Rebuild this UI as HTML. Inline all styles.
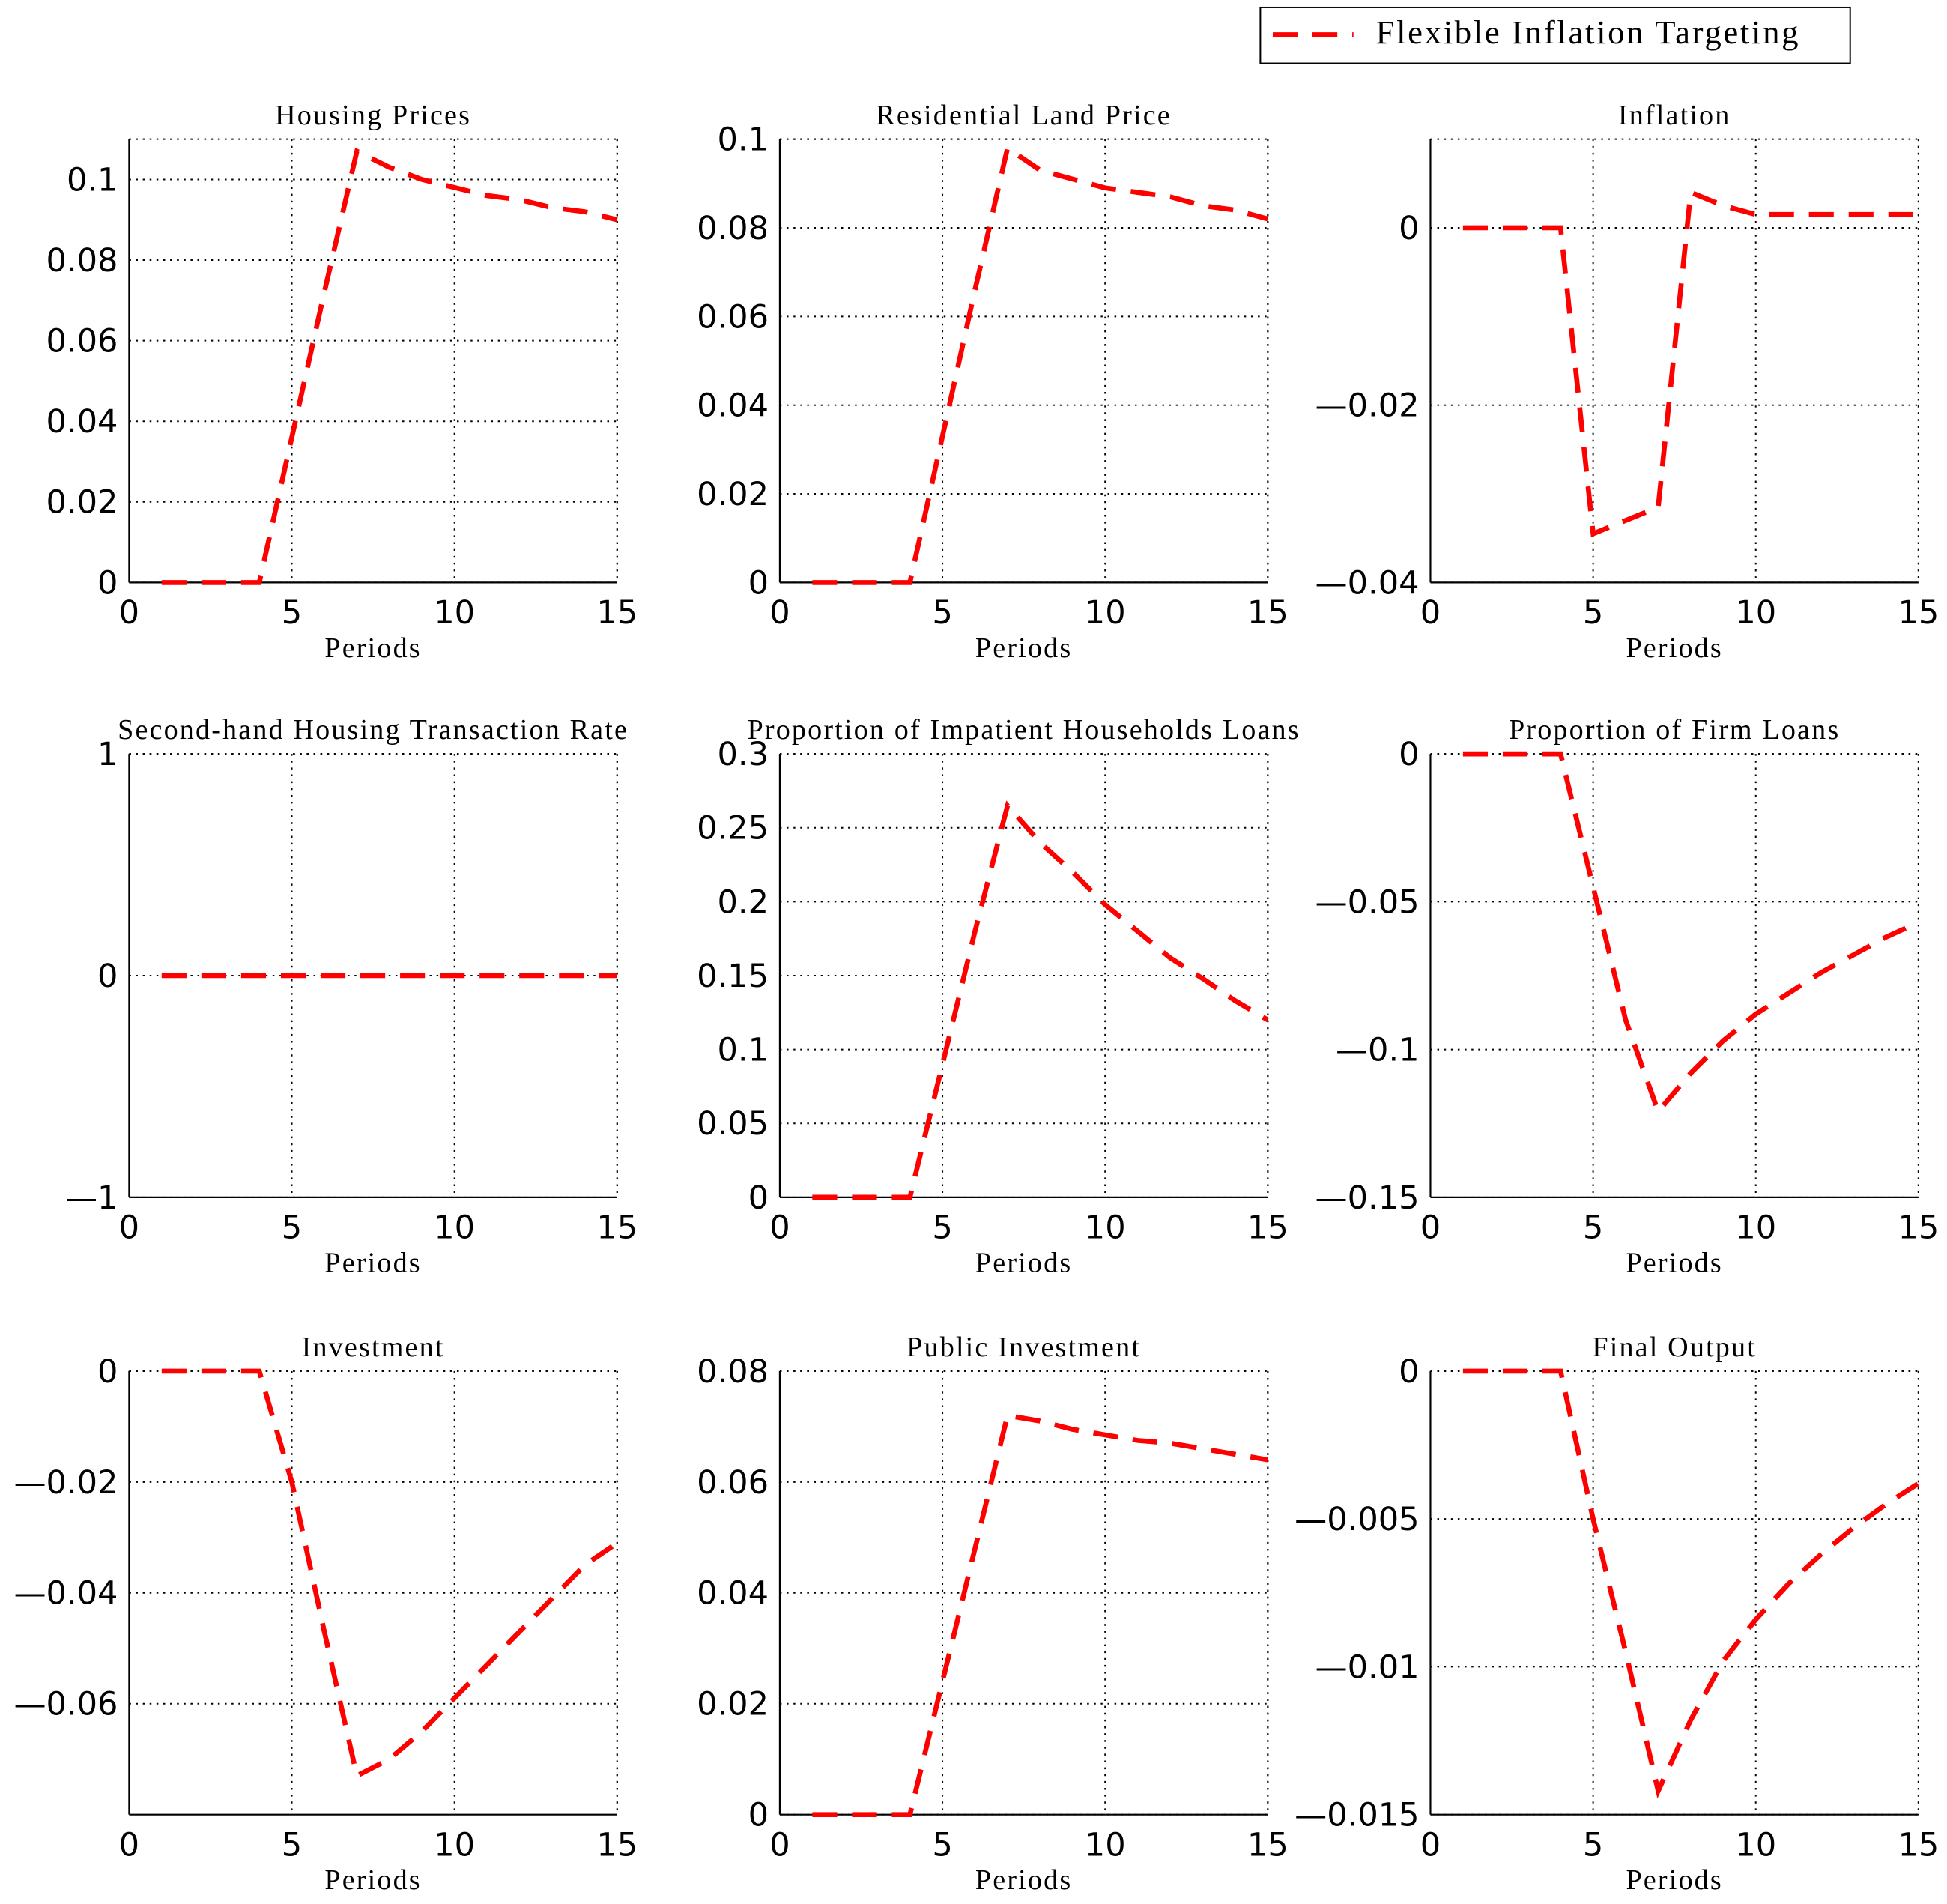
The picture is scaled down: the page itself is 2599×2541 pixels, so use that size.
<!DOCTYPE html>
<html><head><meta charset="utf-8"><style>
html,body{margin:0;padding:0;background:#fff}
svg{display:block}
.tk{font-family:"DejaVu Sans","Liberation Sans",sans-serif;font-size:26px;fill:#000}
.tt{font-family:"Liberation Serif",serif;font-size:23px;fill:#000;letter-spacing:1.3px}
</style></head><body>
<svg id="fig" width="2599" height="2541" viewBox="0 0 1568 1533" xmlns="http://www.w3.org/2000/svg">
<g>
<rect x="1015" y="6" width="475" height="45" fill="#fff" stroke="#000" stroke-width="1.2"/>
<line x1="1025" y1="28" x2="1090" y2="28" stroke="#f00" stroke-width="4" stroke-dasharray="20,12"/>
<text class="tt" x="1108" y="35" style="font-size:27px;letter-spacing:1.6px">Flexible Inflation Targeting</text>
</g>
</svg>
<script>
const periods=[1,2,3,4,5,6,7,8,9,10,11,12,13,14,15];
const titles=["Housing Prices","Residential Land Price","Inflation","Second-hand Housing Transaction Rate","Proportion of Impatient Households Loans","Proportion of Firm Loans","Investment","Public Investment","Final Output"];
const housing=[0,0,0,0,0.036,0.072,0.107,0.103,0.100,0.098,0.096,0.095,0.093,0.092,0.090];
const land=[0,0,0,0,0.033,0.066,0.098,0.093,0.091,0.089,0.088,0.087,0.085,0.084,0.082];
const inflation=[0,0,0,0,-0.0345,-0.033,-0.0315,0.004,0.0025,0.0015,0.0015,0.0015,0.0015,0.0015,0.0015];
const transaction=[0,0,0,0,0,0,0,0,0,0,0,0,0,0,0];
const impatient=[0,0,0,0,0.09,0.18,0.265,0.24,0.22,0.198,0.18,0.162,0.148,0.133,0.12];
const firm=[0,0,0,0,-0.045,-0.09,-0.121,-0.108,-0.097,-0.088,-0.081,-0.074,-0.068,-0.062,-0.057];
const investment=[0,0,0,0,-0.02,-0.047,-0.073,-0.07,-0.065,-0.059,-0.053,-0.047,-0.041,-0.035,-0.031];
const publicInv=[0,0,0,0,0.024,0.048,0.072,0.071,0.0695,0.0685,0.0675,0.067,0.066,0.065,0.064];
const output=[0,0,0,0,-0.005,-0.0095,-0.0142,-0.0118,-0.0098,-0.0084,-0.0072,-0.0062,-0.0053,-0.0045,-0.0038];
const yMins=[0,0,-0.04,-1,0,-0.15,-0.08,0,-0.015];
const yMaxs=[0.11,0.1,0.01,1,0.3,0,0,0.08,0];
const yTicks=[[0,0.02,0.04,0.06,0.08,0.1],[0,0.02,0.04,0.06,0.08,0.1],[-0.04,-0.02,0],[-1,0,1],[0,0.05,0.1,0.15,0.2,0.25,0.3],[-0.15,-0.1,-0.05,0],[-0.06,-0.04,-0.02,0],[0,0.02,0.04,0.06,0.08],[-0.015,-0.01,-0.005,0]];
const xTicks=[0,5,10,15];
const series=[housing,land,inflation,transaction,impatient,firm,investment,publicInv,output];
const NS="http://www.w3.org/2000/svg";
const svg=document.getElementById("fig");
const colX=[104,628,1152], rowY=[[112,469],[607,964],[1104,1461]], W=393;
function mk(t,a,p){const e=document.createElementNS(NS,t);for(const k in a)e.setAttribute(k,a[k]);p.appendChild(e);return e;}
function fmt(v){let s=String(+v.toFixed(4));return s.replace("-","\u2014");}
for(let i=0;i<9;i++){
  const x0=colX[i%3], y0=rowY[Math.floor(i/3)][0], y1=rowY[Math.floor(i/3)][1];
  const xs=v=>x0+v/15*W;
  const ys=v=>y1-(v-yMins[i])/(yMaxs[i]-yMins[i])*(y1-y0);
  const g=mk("g",{},svg);
  
  
  const grid={stroke:"#000","stroke-width":1.2,"stroke-dasharray":"1.5,4"};
  xTicks.forEach(t=>{if(t>0)mk("line",Object.assign({x1:xs(t),x2:xs(t),y1:y0,y2:y1},grid),g);
    const tl=mk("text",{x:xs(t),y:y1+33,"text-anchor":"middle",class:"tk"},g);tl.textContent=t;});
  yTicks[i].forEach(t=>{mk("line",Object.assign({x1:x0,x2:x0+W,y1:ys(t),y2:ys(t)},grid),g);
    const tl=mk("text",{x:x0-9,y:ys(t)+9,"text-anchor":"end",class:"tk"},g);tl.textContent=fmt(t);});
  mk("line",Object.assign({x1:x0,x2:x0+W,y1:y0,y2:y0},grid),g);
  mk("line",Object.assign({x1:x0+W,x2:x0+W,y1:y0,y2:y1},grid),g);
  mk("line",{x1:x0,x2:x0,y1:y0,y2:y1,stroke:"#000","stroke-width":1.3},g);
  mk("line",{x1:x0,x2:x0+W,y1:y1,y2:y1,stroke:"#000","stroke-width":1.3},g);
  const tt=mk("text",{x:x0+W/2,y:y0-12,"text-anchor":"middle",class:"tt"},g);tt.textContent=titles[i];
  
  
  const xl=mk("text",{x:x0+W/2,y:y1+60,"text-anchor":"middle",class:"tt"},g);xl.textContent="Periods";
  
  
  const pts=periods.map((p,k)=>xs(p)+","+ys(series[i][k])).join(" ");
  const pl=mk("polyline",{points:pts,fill:"none",stroke:"#f00","stroke-width":4,"stroke-dasharray":"20,12"},g);
  
  
}
</script>
</body></html>
